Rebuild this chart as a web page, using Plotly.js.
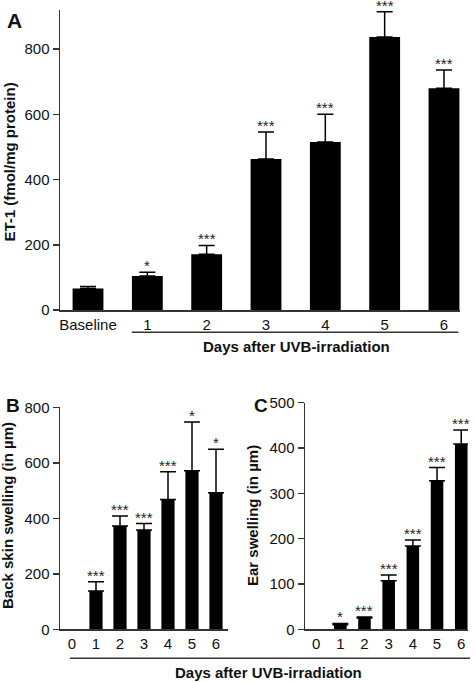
<!DOCTYPE html>
<html>
<head>
<meta charset="utf-8">
<script src="https://cdn.plot.ly/plotly-3.0.1.min.js"></script>
<style>html,body{margin:0;padding:0;background:#fff}#chart{width:475px;height:682px}</style>
</head>
<body>
<div id="chart"></div>
<script>
// Panel A: ET-1
const catsA = ['Baseline', '1', '2', '3', '4', '5', '6'];
const valsA = [66, 104, 171, 463, 515, 837, 680];
const errA = [6, 12, 27, 83, 85, 78, 56];
const starsA = ['', '*', '***', '***', '***', '***', '***'];

// Panel B: back skin swelling (day 0 = reference, no bar)
const catsB = ['0', '1', '2', '3', '4', '5', '6'];
const valsB = [null, 138, 372, 358, 468, 571, 492];
const errB = [null, 33, 36, 23, 100, 176, 157];
const starsB = ['', '***', '***', '***', '***', '*', '*'];

// Panel C: ear swelling (day 0 = reference, no bar)
const catsC = ['0', '1', '2', '3', '4', '5', '6'];
const valsC = [null, 10, 25, 107, 184, 328, 409];
const errC = [null, 3, 2, 13, 13, 29, 31];
const starsC = ['', '*', '***', '***', '***', '***', '***'];

const W = 475, H = 682;
const px = x => x / W;
const py = y => 1 - y / H;
const FONT = 'Arial, "Liberation Sans", sans-serif';
const AX = '#333';

function barTrace(cats, vals, errs, xa, ya, width) {
  return {
    type: 'bar', x: cats, y: vals, xaxis: xa, yaxis: ya,
    width: width,
    marker: {color: '#000', line: {width: 0}},
    error_y: {type: 'data', symmetric: false, array: errs,
              arrayminus: errs.map(e => (e === null ? null : 0)), color: '#000',
              thickness: 1.5, width: 8, visible: true},
    hoverinfo: 'skip', showlegend: false
  };
}

const data = [
  barTrace(catsA, valsA, errA, 'x', 'y', 0.52),
  barTrace(catsB, valsB, errB, 'x2', 'y2', 0.55),
  barTrace(catsC, valsC, errC, 'x3', 'y3', 0.52)
];

function starAnns(cats, vals, errs, stars, xr, yr) {
  return cats.map((c, i) => ({
    x: c, y: (vals[i] || 0) + (errs[i] || 0), xref: xr, yref: yr,
    text: stars[i], showarrow: false, yanchor: 'bottom',
    yshift: -4, font: {family: FONT, size: 15, color: '#222'}
  })).filter(a => a.text);
}

function xAxis(domain, range, anchor) {
  return {domain: domain, range: range, anchor: anchor, type: 'category',
    showline: true, linecolor: AX, linewidth: 1.5, ticks: '', showgrid: false,
    zeroline: false, tickfont: {family: FONT, size: 15, color: '#111'}, fixedrange: true};
}
function yAxis(domain, range, dtick, anchor) {
  return {domain: domain, range: range, anchor: anchor, dtick: dtick,
    showline: true, linecolor: AX, linewidth: 1.5, ticks: 'outside', ticklen: 6,
    tickwidth: 1.5, tickcolor: AX, showgrid: false, zeroline: false,
    tickfont: {family: FONT, size: 15, color: '#111'}, fixedrange: true};
}

const txt = (t, x, y, size, bold, angle) => ({
  xref: 'paper', yref: 'paper', x: px(x), y: py(y), text: bold ? '<b>' + t + '</b>' : t,
  showarrow: false, xanchor: 'center', yanchor: 'middle', textangle: angle || 0,
  font: {family: FONT, size: size, color: '#111'}
});

const layout = {
  width: W, height: H,
  margin: {l: 0, r: 0, t: 0, b: 0},
  paper_bgcolor: '#fff', plot_bgcolor: '#fff',
  bargap: 0.48,
  xaxis: xAxis([px(60), px(460)], [-0.472, 6.27], 'y'),
  yaxis: yAxis([py(310), py(10)], [0, 920], 200, 'x'),
  xaxis2: xAxis([px(60), px(228)], [-0.5, 6.5], 'y2'),
  yaxis2: yAxis([py(629.3), py(407.3)], [0, 800], 200, 'x2'),
  xaxis3: xAxis([px(305), px(468)], [-0.46, 6.28], 'y3'),
  yaxis3: yAxis([py(629.3), py(402.7)], [0, 500], 100, 'x3'),
  shapes: [
    {type: 'line', xref: 'paper', yref: 'paper', x0: px(131.7), x1: px(458.3), y0: py(332.3), y1: py(332.3), line: {color: AX, width: 1.5}},
    {type: 'line', xref: 'paper', yref: 'paper', x0: px(70), x1: px(470), y0: py(658.3), y1: py(658.3), line: {color: AX, width: 1.5}}
  ],
  annotations: [
    ...starAnns(catsA, valsA, errA, starsA, 'x', 'y'),
    ...starAnns(catsB, valsB, errB, starsB, 'x2', 'y2'),
    ...starAnns(catsC, valsC, errC, starsC, 'x3', 'y3'),
    txt('A', 14, 20.5, 21, true),
    txt('B', 13, 405, 19, true),
    txt('C', 261, 405, 19, true),
    txt('ET-1 (fmol/mg protein)', 9, 162.5, 15, true, -90),
    txt('Back skin swelling (in µm)', 7, 516, 15, true, -90),
    txt('Ear swelling (in µm)', 252, 516, 15, true, -90),
    txt('Days after UVB-irradiation', 296, 346.7, 15, true),
    txt('Days after UVB-irradiation', 268, 672.7, 15, true)
  ]
};

Plotly.newPlot('chart', data, layout, {displayModeBar: false, staticPlot: true});
</script>
</body>
</html>
